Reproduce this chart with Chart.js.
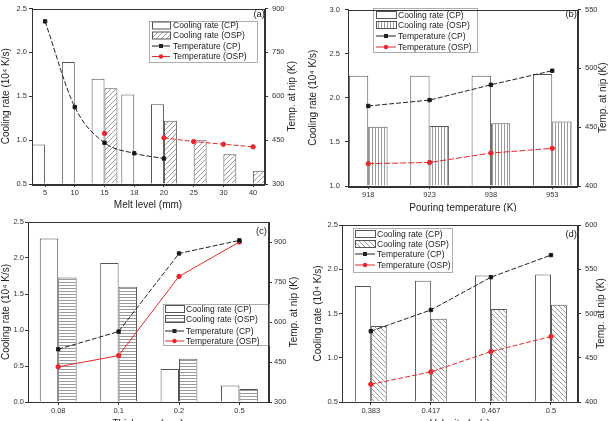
<!DOCTYPE html>
<html>
<head>
  <title>Cooling rate and nip temperature</title>
  <script src="https://cdn.jsdelivr.net/npm/chart.js@4"></script>
  <style>
    body { margin: 0; width: 611px; height: 421px; overflow: hidden; background: #fff; position: relative; }
    canvas { position: absolute; }
  </style>
</head>
<body>
  <canvas id="chartA" width="305" height="212" style="left:0;top:0"></canvas>
  <canvas id="chartB" width="306" height="212" style="left:305px;top:0"></canvas>
  <canvas id="chartC" width="305" height="220" style="left:0;top:212px"></canvas>
  <canvas id="chartD" width="306" height="220" style="left:305px;top:212px"></canvas>

  <script>
    // (a) melt level
    const meltLevels = ['5', '10', '15', '18', '20', '25', '30', '40'];
    const meltCoolCP = [0.95, 1.89, 1.70, 1.52, 1.41, null, null, null];
    const meltCoolOSP = [null, null, 1.59, null, 1.22, 1.00, 0.84, 0.65];
    const meltTempCP = [856, 563, 441, 405, 387, null, null, null];
    const meltTempOSP = [null, null, 473, null, 458, 445, 436, 427];

    // (b) pouring temperature
    const pourTemps = ['918', '923', '938', '953'];
    const pourCoolCP = [2.25, 2.25, 2.25, 2.27];
    const pourCoolOSP = [1.67, 1.68, 1.71, 1.73];
    const pourTempCP = [468, 473, 486, 498];
    const pourTempOSP = [419, 420, 428, 432];

    // (c) thickness
    const thickness = ['0.08', '0.1', '0.2', '0.5'];
    const thickCoolCP = [2.27, 1.93, 0.46, 0.23];
    const thickCoolOSP = [1.73, 1.60, 0.60, 0.18];
    const thickTempCP = [498, 564, 857, 906];
    const thickTempOSP = [432, 474, 771, 900];

    // (d) velocity
    const velocity = ['0.383', '0.417', '0.467', '0.5'];
    const velCoolCP = [1.81, 1.87, 1.93, 1.94];
    const velCoolOSP = [1.36, 1.44, 1.55, 1.60];
    const velTempCP = [480, 504, 541, 566];
    const velTempOSP = [420, 434, 457, 474];

    const legendNames = ['Cooling rate (CP)', 'Cooling rate (OSP)', 'Temperature (CP)', 'Temperature (OSP)'];
    const coolTitle = 'Cooling rate (10\u2074 K/s)';
    const tempTitle = 'Temp. at nip (K)';

    const FONT = "'Liberation Sans', Arial, sans-serif";
    const INK = '#333';
    const RED = '#e8262b';

    // hatch fill for the OSP bars
    function makeHatch(kind) {
      const s = (kind === 'vert' || kind === 'horz') ? 3 : 5;
      const c = document.createElement('canvas');
      c.width = s; c.height = s;
      const g = c.getContext('2d');
      g.fillStyle = '#fff';
      g.fillRect(0, 0, s, s);
      g.strokeStyle = '#808080';
      g.lineWidth = 0.8;
      g.beginPath();
      if (kind === 'vert') { g.moveTo(1.5, 0); g.lineTo(1.5, s); }
      else if (kind === 'horz') { g.moveTo(0, 1.5); g.lineTo(s, 1.5); }
      else if (kind === 'diagR') {
        g.moveTo(0, s); g.lineTo(s, 0);
        g.moveTo(-1, 1); g.lineTo(1, -1);
        g.moveTo(s - 1, s + 1); g.lineTo(s + 1, s - 1);
      } else {
        g.moveTo(0, 0); g.lineTo(s, s);
        g.moveTo(s - 1, -1); g.lineTo(s + 1, 1);
        g.moveTo(-1, s - 1); g.lineTo(1, s + 1);
      }
      g.stroke();
      return g.createPattern(c, 'repeat');
    }

    const panels = [
      {
        id: 'chartA', left: 0, top: 0, width: 305, height: 212,
        area: { l: 32, t: 6, r: 265, b: 184 },
        labels: meltLevels, cp: meltCoolCP, osp: meltCoolOSP, tcp: meltTempCP, tosp: meltTempOSP,
        xRange: [-0.44, 7.40], catPct: 0.87, curve: true, hatch: 'diagR', redDash: [5, 2],
        yL: [0.5, 2.5, [0.5, 1.0, 1.5, 2.0, 2.5]], yR: [300, 900, [300, 450, 600, 750, 900]],
        padL: 2, padR: 4,
        tag: '(a)', tagPos: [265, 14],
        xTitle: 'Melt level (mm)', xTitlePos: [148, 205], lTitleX: 6, rTitleX: 292,
        legend: { x: 149, y: 21, w: 108, h: 41, rows: [25.5, 35.5, 46, 56.5], patchX: 152, patchW: 18, textX: 173 }
      },
      {
        id: 'chartB', left: 305, top: 0, width: 306, height: 212,
        area: { l: 348, t: 5, r: 578, b: 186 },
        labels: pourTemps, cp: pourCoolCP, osp: pourCoolOSP, tcp: pourTempCP, tosp: pourTempOSP,
        xRange: [-0.33, 3.42], catPct: 0.63, curve: false, hatch: 'vert', redDash: [6, 2],
        yL: [1.0, 3.0, [1.0, 1.5, 2.0, 2.5, 3.0]], yR: [400, 550, [400, 450, 500, 550]],
        padL: 5, padR: 4,
        tag: '(b)', tagPos: [577, 14],
        xTitle: 'Pouring temperature (K)', xTitlePos: [463, 208], lTitleX: 313, rTitleX: 603,
        legend: { x: 373, y: 8, w: 104, h: 44, rows: [15, 25, 36, 47], patchX: 376, patchW: 20, textX: 398 }
      },
      {
        id: 'chartC', left: 0, top: 212, width: 305, height: 220,
        area: { l: 28, t: 222, r: 269, b: 402 },
        labels: thickness, cp: thickCoolCP, osp: thickCoolOSP, tcp: thickTempCP, tosp: thickTempOSP,
        xRange: [-0.50, 3.49], catPct: 0.61, curve: false, hatch: 'horz', redDash: [],
        yL: [0.0, 2.5, [0.0, 0.5, 1.0, 1.5, 2.0, 2.5]], yR: [300, 975, [300, 450, 600, 750, 900]],
        padL: 1, padR: 2,
        tag: '(c)', tagPos: [267, 231],
        xTitle: 'Thickness (mm)', xTitlePos: [148, 424], lTitleX: 6, rTitleX: 294,
        legend: { x: 163, y: 304, w: 106, h: 41, rows: [309, 319, 331, 341], patchX: 165, patchW: 19, textX: 186 }
      },
      {
        id: 'chartD', left: 305, top: 212, width: 306, height: 220,
        area: { l: 342, t: 225, r: 578, b: 402 },
        labels: velocity, cp: velCoolCP, osp: velCoolOSP, tcp: velTempCP, tosp: velTempOSP,
        xRange: [-0.48, 3.45], catPct: 0.53, curve: false, hatch: 'diagL', redDash: [5, 2],
        yL: [0.5, 2.5, [0.5, 1.0, 1.5, 2.0, 2.5]], yR: [400, 600, [400, 450, 500, 550, 600]],
        padL: 1, padR: 4,
        tag: '(d)', tagPos: [577, 234],
        xTitle: 'Velocity (m/s)', xTitlePos: [460, 424], lTitleX: 318, rTitleX: 601,
        legend: { x: 353, y: 228, w: 99, h: 44, rows: [234, 244, 254, 265], patchX: 355, patchW: 20, textX: 377 }
      }
    ];

    const toPoints = arr => arr.map((v, i) => ({ x: i, y: v }));

    // frame, legend, axis titles and panel tag
    const decorPlugin = {
      id: 'decor',
      afterDraw(chart, args, p) {
        const ctx = chart.ctx;
        const ox = p.left, oy = p.top;
        const ca = chart.chartArea;
        ctx.save();

        // legend
        const lg = p.legend;
        ctx.fillStyle = '#fff';
        ctx.fillRect(lg.x - ox, lg.y - oy, lg.w, lg.h);
        ctx.strokeStyle = '#999';
        ctx.lineWidth = 0.8;
        ctx.strokeRect(lg.x - ox + 0.5, lg.y - oy + 0.5, lg.w, lg.h);
        ctx.font = '8.5px ' + FONT;
        ctx.textBaseline = 'middle';
        ctx.textAlign = 'left';
        lg.rows.forEach((ry, i) => {
          const y = ry - oy;
          const x0 = lg.patchX - ox;
          if (i < 2) {
            ctx.fillStyle = i === 0 ? '#fff' : p.pattern;
            ctx.fillRect(x0, y - 3.5, lg.patchW, 7);
            ctx.strokeStyle = '#555';
            ctx.lineWidth = 1;
            ctx.strokeRect(x0 + 0.5, y - 3.5, lg.patchW, 7);
          } else {
            const col = i === 2 ? '#222' : RED;
            ctx.strokeStyle = col;
            ctx.lineWidth = 1;
            ctx.beginPath();
            ctx.moveTo(x0, y);
            ctx.lineTo(x0 + lg.patchW, y);
            ctx.stroke();
            ctx.fillStyle = col;
            ctx.beginPath();
            if (i === 2) ctx.rect(x0 + lg.patchW / 2 - 2, y - 2, 4, 4);
            else ctx.arc(x0 + lg.patchW / 2, y, 2.2, 0, Math.PI * 2);
            ctx.fill();
          }
          ctx.fillStyle = '#222';
          ctx.fillText(legendNames[i], lg.textX - ox, y + 0.5);
        });

        // plot frame
        ctx.strokeStyle = INK;
        ctx.lineWidth = 1;
        ctx.strokeRect(Math.round(ca.left) + 0.5, Math.round(ca.top) + 0.5,
          Math.round(ca.right - ca.left) - 1, Math.round(ca.bottom - ca.top));

        // titles
        ctx.fillStyle = '#222';
        ctx.font = '10px ' + FONT;
        ctx.textAlign = 'center';
        ctx.textBaseline = 'middle';
        ctx.fillText(p.xTitle, p.xTitlePos[0] - ox, p.xTitlePos[1] - oy);
        const midY = (ca.top + ca.bottom) / 2;
        [[p.lTitleX, coolTitle], [p.rTitleX, tempTitle]].forEach(([tx, txt]) => {
          ctx.save();
          ctx.translate(tx - ox, midY);
          ctx.rotate(-Math.PI / 2);
          ctx.fillText(txt, 0, 0);
          ctx.restore();
        });

        // panel tag
        ctx.font = '9.5px ' + FONT;
        ctx.textAlign = 'right';
        ctx.fillText(p.tag, p.tagPos[0] - ox, p.tagPos[1] - oy);
        ctx.restore();
      }
    };

    panels.forEach(p => {
      p.pattern = makeHatch(p.hatch);
      const tickFont = { family: FONT, size: 7.5 };
      const fmt = v => v.toFixed(1);

      new Chart(document.getElementById(p.id), {
        type: 'bar',
        data: {
          datasets: [
            {
              type: 'line', label: legendNames[2], data: toPoints(p.tcp), yAxisID: 'y1', order: 0,
              borderColor: '#222', backgroundColor: '#111', borderWidth: 1, borderDash: [5, 2],
              pointStyle: 'rect', pointRadius: 2.4, tension: 0,
              cubicInterpolationMode: p.curve ? 'monotone' : 'default'
            },
            {
              type: 'line', label: legendNames[3], data: toPoints(p.tosp), yAxisID: 'y1', order: 0,
              borderColor: RED, backgroundColor: RED, borderWidth: 1, borderDash: p.redDash,
              pointStyle: 'circle', pointRadius: 2.2, tension: 0
            },
            {
              label: legendNames[0], data: toPoints(p.cp), yAxisID: 'y', order: 1,
              backgroundColor: '#fff', borderColor: '#555', borderWidth: 1, base: p.yL[0],
              categoryPercentage: p.catPct, barPercentage: 1
            },
            {
              label: legendNames[1], data: toPoints(p.osp), yAxisID: 'y', order: 1,
              backgroundColor: p.pattern, borderColor: '#555', borderWidth: 1, base: p.yL[0],
              categoryPercentage: p.catPct, barPercentage: 1
            }
          ]
        },
        options: {
          responsive: false,
          animation: false,
          devicePixelRatio: 1,
          layout: { padding: { top: p.area.t - p.top, left: 0, right: 0, bottom: 0 } },
          plugins: { legend: { display: false }, tooltip: { enabled: false }, decor: p },
          scales: {
            x: {
              type: 'linear', min: p.xRange[0], max: p.xRange[1], offset: false,
              grid: { display: true, drawOnChartArea: false, offset: false, tickLength: 3, color: INK },
              border: { display: true, color: INK },
              ticks: { font: tickFont, color: INK, padding: 1, autoSkip: false, maxRotation: 0, callback: v => p.labels[v] },
              afterBuildTicks: s => { s.ticks = p.labels.map((_, i) => ({ value: i })); },
              afterFit: s => { s.height = p.height - (p.area.b - p.top); }
            },
            y: {
              position: 'left', min: p.yL[0], max: p.yL[1],
              grid: { display: true, drawOnChartArea: false, tickLength: 3, color: INK },
              border: { display: true, color: INK },
              ticks: { font: tickFont, color: INK, padding: p.padL, callback: fmt },
              afterBuildTicks: s => { s.ticks = p.yL[2].map(v => ({ value: v })); },
              afterFit: s => { s.width = p.area.l - p.left; }
            },
            y1: {
              position: 'right', min: p.yR[0], max: p.yR[1],
              grid: { display: true, drawOnChartArea: false, tickLength: 3, color: INK },
              border: { display: true, color: INK },
              ticks: { font: tickFont, color: INK, padding: p.padR },
              afterBuildTicks: s => { s.ticks = p.yR[2].map(v => ({ value: v })); },
              afterFit: s => { s.width = p.left + p.width - p.area.r; }
            }
          }
        },
        plugins: [decorPlugin]
      });
    });
  </script>
</body>
</html>
